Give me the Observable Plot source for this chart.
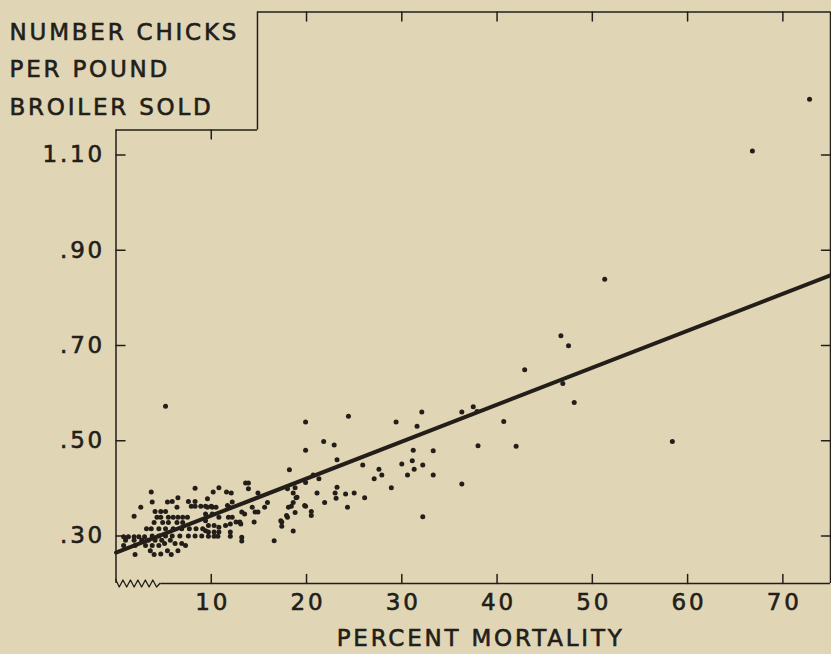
<!DOCTYPE html>
<html><head><meta charset="utf-8">
<script src="https://cdn.jsdelivr.net/npm/d3@7"></script>
<script src="https://cdn.jsdelivr.net/npm/@observablehq/plot@0.6"></script>
<style>
html,body{margin:0;padding:0;background:#e0d6b6;}
#chart{width:831px;height:654px;}
#chart svg text{stroke:#231e19;stroke-width:0.6px;}
</style>
</head><body><div id="chart"></div>
<script>
// ---- data ----
const titleLines = ["NUMBER CHICKS", "PER POUND", "BROILER SOLD"];
const xLabel = "PERCENT MORTALITY";
const xTicks = [10, 20, 30, 40, 50, 60, 70];
const yTicks = [0.30, 0.50, 0.70, 0.90, 1.10];
const xDomain = [0, 75];
const yDomain = [0.2, 1.4];
const stepX = 14.85;   // corner of the label box cut out of the frame
const stepY = 1.152;
const axisBreak = 4.7; // end of the broken-axis squiggle

const mortality = [
  72.8,66.8,51.3,58.4,46.7,47.5,42.9,46.9,48.1,36.3,37.5,37.9,40.7,38.0,42.0,36.3,
  24.4,22.9,23.2,29.4,32.1,31.6,31.2,33.3,25.9,30.0,31.1,32.2,31.3,27.6,27.9,27.1,30.6,33.3,28.9,23.2,23.0,23.1,24.1,25.0,26.1,24.3,32.2,
  19.9,21.8,19.9,18.2,20.7,21.3,19.9,18.8,18.0,18.6,18.9,21.1,18.6,21.9,18.1,18.4,19.9,18.8,20.5,20.5,18.0,17.4,17.4,18.6,16.6,19.0,19.8,
  10.8,11.6,12.1,13.6,13.9,13.9,14.9,12.2,9.6,10.1,10.5,11.7,11.9,13.2,13.5,14.3,14.6,14.9,15.9,15.6,14.5,9.4,9.4,10.1,10.8,11.8,12.2,13.0,12.6,9.7,10.3,10.8,11.5,12.0,13.1,9.4,9.7,10.3,10.8,12.0,9.7,10.3,10.7,12.0,13.2,13.2,17.3,17.9,
  3.7,2.6,1.9,3.8,5.4,5.9,6.5,6.4,7.6,8.3,8.3,10.2,9.6,7.9,8.3,8.9,9.4,10.0,4.1,4.7,5.2,4.3,4.7,5.5,6.0,6.5,7.0,7.5,4.0,4.9,5.5,6.4,7.0,3.2,3.7,4.5,5.2,6.0,6.9,7.7,8.4,9.1,0.8,1.3,1.9,2.4,3.0,3.8,4.5,5.2,5.9,6.7,7.6,8.3,9.0,1.0,1.9,2.7,3.4,4.1,4.8,5.7,0.8,2.0,3.1,3.8,4.5,5.1,6.2,6.9,3.6,4.7,5.4,6.5,7.3,2.0,4.0,5.8,5.2
];
const chicks = [
  1.217,1.108,0.839,0.498,0.720,0.699,0.649,0.620,0.580,0.560,0.571,0.561,0.540,0.489,0.488,0.409,
  0.551,0.491,0.460,0.539,0.560,0.530,0.480,0.479,0.449,0.451,0.458,0.449,0.440,0.440,0.428,0.420,0.428,0.428,0.401,0.402,0.390,0.379,0.388,0.390,0.380,0.360,0.340,
  0.539,0.498,0.480,0.439,0.428,0.420,0.412,0.401,0.399,0.390,0.380,0.390,0.370,0.370,0.360,0.362,0.362,0.349,0.351,0.343,0.339,0.329,0.320,0.310,0.290,0.381,0.364,
  0.401,0.392,0.390,0.411,0.411,0.399,0.390,0.371,0.360,0.360,0.360,0.364,0.360,0.350,0.346,0.360,0.350,0.350,0.370,0.360,0.329,0.346,0.332,0.346,0.339,0.339,0.339,0.329,0.329,0.322,0.322,0.318,0.322,0.325,0.325,0.311,0.308,0.308,0.308,0.308,0.299,0.299,0.299,0.299,0.297,0.289,0.332,0.343,
  0.392,0.360,0.341,0.371,0.371,0.372,0.380,0.360,0.372,0.372,0.400,0.392,0.378,0.362,0.362,0.362,0.362,0.362,0.351,0.351,0.351,0.339,0.339,0.339,0.339,0.339,0.339,0.339,0.328,0.328,0.328,0.328,0.328,0.315,0.315,0.315,0.315,0.315,0.315,0.315,0.315,0.315,0.298,0.298,0.298,0.298,0.298,0.300,0.300,0.300,0.300,0.300,0.300,0.300,0.300,0.291,0.291,0.291,0.291,0.291,0.291,0.291,0.280,0.280,0.280,0.280,0.280,0.284,0.284,0.284,0.269,0.262,0.269,0.269,0.280,0.261,0.261,0.261,0.572
];
// regression line end points
const fitX = [0, 75];
const fitY = [0.265, 0.847];

// ---- styling ----
const bg = "#e0d6b6";
const ink = "#231e19";
const font = "DejaVu Sans, Verdana, sans-serif";
const fs = 23;
const ls = 2.8;

const fmt = d => d >= 1 ? d.toFixed(2) : d.toFixed(2).slice(1);
const tickShape = {draw(context, l) { context.moveTo(0, 0); context.lineTo(0, -l); }};
const tickOpts = {length: 9, anchor: "start", shape: tickShape, stroke: ink, strokeWidth: 1.5};

const squiggle = (index, {x, y}) => {
  const x0 = x(0), x1 = x(axisBreak), y0 = y(yDomain[0]);
  const n = 12, pts = [[x0, y0 - 4]];
  for (let i = 1; i < n; i++) pts.push([x0 + (x1 - x0) * i / n, i % 2 ? y0 + 4 : y0 - 3]);
  pts.push([x1, y0]);
  return d3.create("svg:path")
    .attr("d", d3.line()(pts))
    .attr("fill", "none").attr("stroke", ink).attr("stroke-width", 1.3)
    .attr("stroke-linejoin", "round")
    .node();
};

const chart = Plot.plot({
  width: 831, height: 654,
  marginLeft: 115.5, marginRight: 1, marginTop: 11.5, marginBottom: 71,
  x: {domain: xDomain},
  y: {domain: yDomain},
  style: {background: bg, color: ink, fontFamily: font, fontSize: fs + "px", letterSpacing: ls + "px"},
  marks: [
    // frame with the cut-out corner
    Plot.ruleY([yDomain[1]], {x1: stepX, x2: xDomain[1], stroke: ink, strokeWidth: 1.5}),
    Plot.ruleX([stepX], {y1: stepY, y2: yDomain[1], stroke: ink, strokeWidth: 1.5}),
    Plot.ruleY([stepY], {x1: xDomain[0], x2: stepX, stroke: ink, strokeWidth: 1.5}),
    Plot.ruleX([xDomain[0]], {y1: yDomain[0], y2: stepY, stroke: ink, strokeWidth: 1.5}),
    Plot.ruleX([xDomain[1]], {y1: yDomain[0], y2: yDomain[1], stroke: ink, strokeWidth: 1.5}),
    Plot.ruleY([yDomain[0]], {x1: axisBreak, x2: xDomain[1], stroke: ink, strokeWidth: 1.5}),
    squiggle,
    // inward ticks
    Plot.vector(xTicks, {x: d => d, y: yDomain[0], rotate: 0, ...tickOpts}),
    Plot.vector(xTicks, {x: d => d, y: d => d < stepX ? stepY : yDomain[1], rotate: 180, ...tickOpts}),
    Plot.vector(yTicks, {x: xDomain[0], y: d => d, rotate: 90, ...tickOpts}),
    Plot.vector(yTicks, {x: xDomain[1], y: d => d, rotate: -90, ...tickOpts}),
    // tick labels
    Plot.axisX(xTicks, {anchor: "bottom", tickSize: 0, tickPadding: 10, dx: ls / 2, fontSize: fs, label: null}),
    Plot.axisY(yTicks, {anchor: "left", tickSize: 0, tickPadding: 11, tickFormat: fmt, fontSize: fs, label: null}),
    // data
    Plot.dot(mortality, {x: mortality, y: chicks, r: 2.5, fill: ink, stroke: "none"}),
    Plot.line(fitX, {x: fitX, y: fitY, stroke: ink, strokeWidth: 4}),
    // titles
    Plot.text([titleLines.join("\n")], {frameAnchor: "top-left", textAnchor: "start", lineAnchor: "top", lineHeight: 1.63, dx: -106.5, dy: 1, fontSize: fs, fill: ink}),
    Plot.text([xLabel], {frameAnchor: "bottom", lineAnchor: "middle", dy: 55, dx: 6 + ls / 2, fontSize: fs, fill: ink})
  ]
});
document.getElementById("chart").appendChild(chart);
</script>
</body></html>
